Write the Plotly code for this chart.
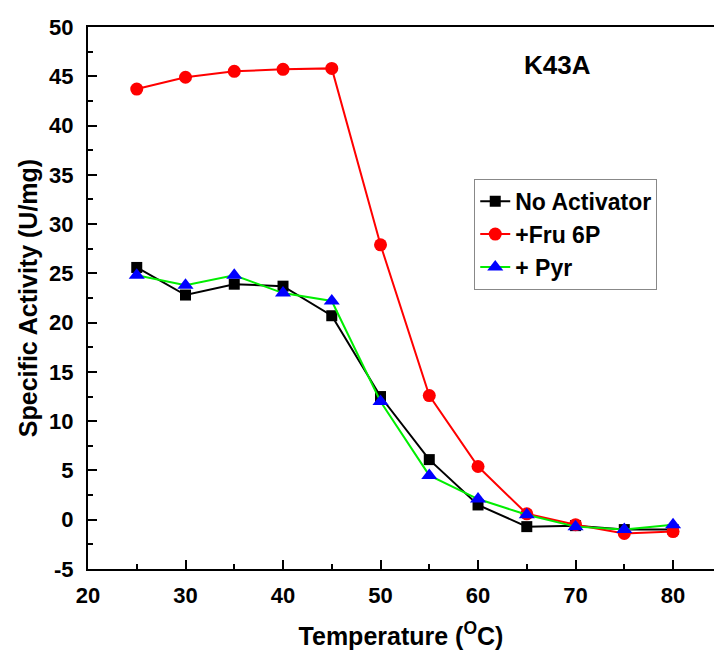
import plotly.graph_objects as go

temps = [25, 30, 35, 40, 45, 50, 55, 60, 65, 70, 75, 80]
no_activator = [25.6, 22.8, 23.9, 23.7, 20.7, 12.5, 6.1, 1.5, -0.7, -0.6, -1.0, -1.0]
fru6p = [43.7, 44.9, 45.5, 45.7, 45.8, 27.9, 12.6, 5.4, 0.6, -0.5, -1.4, -1.2]
pyr = [24.8, 23.8, 24.8, 23.0, 22.2, 12.0, 4.5, 2.1, 0.5, -0.7, -1.0, -0.5]

y_tick_vals = [-5, 0, 5, 10, 15, 20, 25, 30, 35, 40, 45, 50]
y_tick_text = ["-5", "0", "5", "10", "15", "20", "25", "30", "35", "40", "45", "50"]

FONT = "Liberation Sans, Arial, sans-serif"

fig = go.Figure()
fig.add_trace(go.Scatter(x=temps, y=no_activator, mode="lines+markers", name="No Activator",
                         line=dict(color="black", width=2),
                         marker=dict(symbol="square", size=11, color="black")))
fig.add_trace(go.Scatter(x=temps, y=fru6p, mode="lines+markers", name="+Fru 6P",
                         line=dict(color="#ff0000", width=2),
                         marker=dict(symbol="circle", size=13, color="#ff0000")))
fig.add_trace(go.Scatter(x=temps, y=pyr, mode="lines+markers", name="+ Pyr",
                         line=dict(color="#00ee00", width=2),
                         marker=dict(symbol="triangle-up", size=14, color="#0000ff")))

fig.add_annotation(x=0.693, y=0.93, xref="paper", yref="paper", text="K43A", showarrow=False,
                   xanchor="left", yanchor="middle",
                   font=dict(family=FONT, size=26, color="black", weight="bold"))

fig.update_layout(
    width=714, height=654,
    margin=dict(l=88, r=0, t=27, b=85),
    paper_bgcolor="white", plot_bgcolor="white",
    font=dict(family=FONT, size=22, color="black", weight="bold"),
    showlegend=True,
    legend=dict(x=0.617, y=0.72, xanchor="left", yanchor="top",
                bordercolor="#888888", borderwidth=1, bgcolor="white",
                font=dict(family=FONT, size=23, color="black", weight="bold"),
                tracegroupgap=0, itemsizing="trace"),
    xaxis=dict(range=[20, 84.2], tickmode="linear", tick0=20, dtick=10,
               ticks="inside", ticklen=9, tickwidth=2, tickcolor="black",
               minor=dict(ticks="inside", ticklen=5, tickwidth=2, tickcolor="black", dtick=5),
               showline=True, linecolor="black", linewidth=2, mirror=True,
               showgrid=False, zeroline=False, ticklabelstandoff=6,
               tickfont=dict(family=FONT, size=22, weight="bold"),
               title=dict(text="Temperature (<sup>O</sup>C)", standoff=20,
                          font=dict(family=FONT, size=25, weight="bold"))),
    yaxis=dict(range=[-5, 50], tickmode="array", tickvals=y_tick_vals, ticktext=y_tick_text,
               ticks="inside", ticklen=9, tickwidth=2, tickcolor="black",
               minor=dict(ticks="inside", ticklen=5, tickwidth=2, tickcolor="black", dtick=2.5, tick0=-5),
               showline=True, linecolor="black", linewidth=2,
               showgrid=False, zeroline=False, ticklabelstandoff=8,
               tickfont=dict(family=FONT, size=22, weight="bold"),
               title=dict(text="Specific Activity (U/mg)", standoff=4,
                          font=dict(family=FONT, size=25, weight="bold"))),
)

fig.write_html("out.html")
